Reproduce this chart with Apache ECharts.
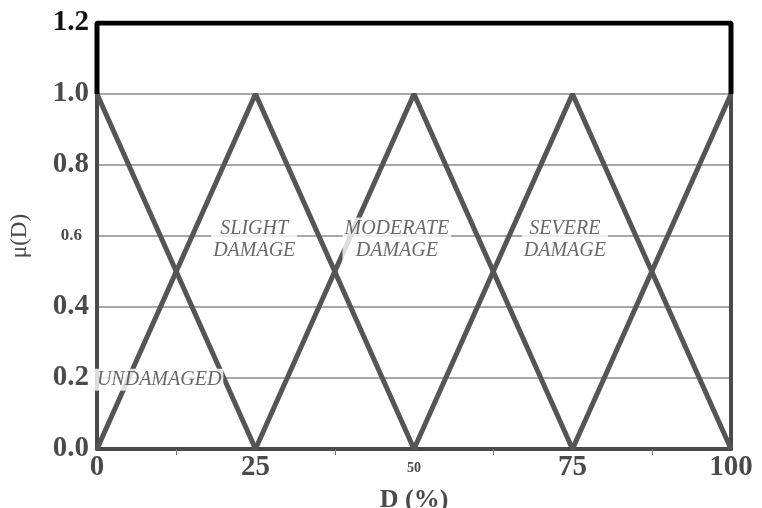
<!DOCTYPE html>
<html>
<head>
<meta charset="utf-8">
<script src="https://cdn.jsdelivr.net/npm/echarts@6/dist/echarts.min.js"></script>
<style>
  html, body { margin: 0; padding: 0; background: #fff; }
  #chart { width: 762px; height: 508px; }
</style>
</head>
<body>
<div id="chart"></div>
<script>
// membership functions, D (%) vs mu(D)
const undamaged = [[0, 1], [25, 0]];
const slight = [[0, 0], [25, 1], [50, 0]];
const moderate = [[25, 0], [50, 1], [75, 0]];
const severe = [[50, 0], [75, 1], [100, 0]];
const complete = [[75, 0], [100, 1]];
// top part of the frame (black)
const frame = [[0, 1.0], [0, 1.2], [100, 1.2], [100, 1.0]];
// text labels: x, y, text
const labelPts = [
  [9.8, 0.195, 'UNDAMAGED'],
  [24.8, 0.59, 'SLIGHT\nDAMAGE'],
  [47.3, 0.59, 'MODERATE\nDAMAGE'],
  [73.8, 0.59, 'SEVERE\nDAMAGE']
];
const xTicks = [12.5, 37.5, 62.5, 87.5];

const gray = '#4a4a4a';
const serif = '"Liberation Serif", "DejaVu Serif", serif';

function tri(data) {
  return {
    type: 'line',
    data: data,
    symbol: 'none',
    lineStyle: { color: '#555', width: 5 },
    z: 3
  };
}

const chart = echarts.init(document.getElementById('chart'));
chart.setOption({
  animation: false,
  grid: { left: 97, right: 31, top: 23, bottom: 59, outerBoundsMode: 'none' },
  xAxis: {
    type: 'value',
    min: 0, max: 100, interval: 25,
    name: 'D (%)',
    nameLocation: 'middle',
    nameGap: 28,
    nameTextStyle: { fontFamily: serif, fontWeight: 'bold', fontSize: 26, color: gray },
    axisLine: { lineStyle: { color: '#4a4a4a', width: 4 } },
    axisTick: { show: true, customValues: xTicks, length: 6, lineStyle: { color: '#777', width: 1 } },
    splitLine: { show: false },
    axisLabel: {
      margin: 4,
      formatter: function (v) {
        return v === 50 ? '{s|50}' : '{b|' + v + '}';
      },
      rich: {
        b: { fontFamily: serif, fontWeight: 'bold', fontSize: 29, color: '#4a4a4a' },
        s: { fontFamily: serif, fontWeight: 'bold', fontSize: 14, color: '#4a4a4a', padding: [8, 0, 0, 0] }
      }
    }
  },
  yAxis: [{
    type: 'value',
    min: 0, max: 1.2, interval: 0.2,
    name: 'μ(D)',
    nameLocation: 'middle',
    nameGap: 66,
    nameRotate: 90,
    nameTextStyle: { fontFamily: serif, fontSize: 23, color: gray },
    axisLine: { show: true, lineStyle: { color: '#4a4a4a', width: 4 } },
    axisTick: { show: false },
    splitLine: { show: true, lineStyle: { color: '#8a8a8a', width: 1.5 } },
    axisLabel: {
      margin: 8,
      formatter: function (v) {
        const t = v.toFixed(1);
        if (t === '0.6') return '{s|0.6}';
        if (t === '1.2') return '{k|1.2}';
        return '{b|' + t + '}';
      },
      rich: {
        b: { fontFamily: serif, fontWeight: 'bold', fontSize: 29, color: '#4a4a4a' },
        k: { fontFamily: serif, fontWeight: 'bold', fontSize: 29, color: '#111' },
        s: { fontFamily: serif, fontWeight: 'bold', fontSize: 17, color: '#4a4a4a', padding: [0, 7, 0, 0] }
      }
    }
  }, {
    type: 'value',
    position: 'right',
    min: 0, max: 1.2, interval: 0.2,
    axisLine: { show: true, lineStyle: { color: '#4a4a4a', width: 4 } },
    axisTick: { show: false },
    axisLabel: { show: false },
    splitLine: { show: false }
  }],
  series: [
    tri(undamaged),
    tri(slight),
    tri(moderate),
    tri(severe),
    tri(complete),
    {
      type: 'line',
      data: frame,
      symbol: 'none',
      lineStyle: { color: '#000', width: 5 },
      z: 4
    },
    {
      type: 'scatter',
      data: labelPts,
      symbolSize: 0,
      z: 5,
      label: {
        show: true,
        position: 'inside',
        formatter: function (p) { return p.data[2]; },
        fontFamily: serif,
        fontStyle: 'italic',
        fontSize: 20,
        lineHeight: 22,
        color: '#444',
        backgroundColor: '#fff',
        padding: [0, 2]
      }
    }
  ]
});
</script>
</body>
</html>
